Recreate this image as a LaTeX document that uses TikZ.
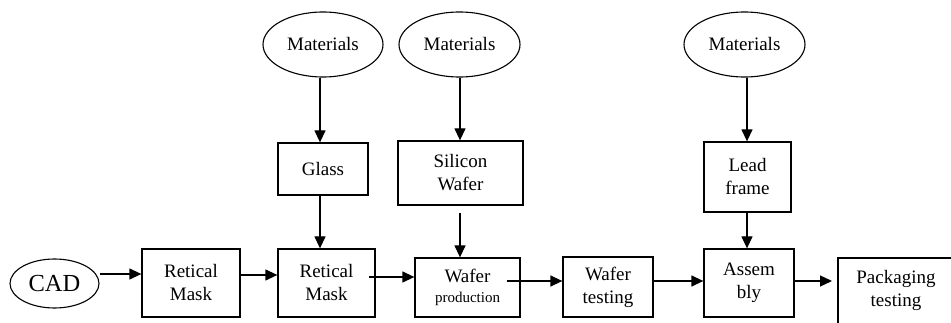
\documentclass[tikz,border=0pt]{standalone}
\usepackage{fontspec}
\setmainfont{Liberation Serif}
\usetikzlibrary{shapes.geometric,arrows.meta}
\begin{document}
\begin{tikzpicture}[x=1pt,y=-1pt,
  every node/.style={font=\fontsize{19}{23}\selectfont, align=center, inner sep=0pt},
  boxn/.style={draw, line width=1.3pt, rectangle},
  ell/.style={draw, line width=1.1pt, ellipse},
  arr/.style={line width=1.3pt, -{Triangle[length=12pt,width=11pt]}}]
\useasboundingbox (0,0) rectangle (951,323);
% ellipses
\node[ell, minimum width=89pt, minimum height=49pt, font=\fontsize{24.5}{28}\selectfont] (cad) at (54.5,283.5) {CAD};
\node[ell, minimum width=120pt, minimum height=65pt] (m1) at (323,44.5) {Materials};
\node[ell, minimum width=121pt, minimum height=65pt] (m2) at (459.5,44.5) {Materials};
\node[ell, minimum width=121pt, minimum height=65pt] (m3) at (744.5,44.5) {Materials};
% upper boxes
\node[boxn, minimum width=90pt, minimum height=52pt] (glass) at (323,169) {Glass};
\node[boxn, minimum width=125pt, minimum height=64pt] (si) at (460.5,173) {Silicon\\Wafer};
\node[boxn, minimum width=87pt, minimum height=70pt] (lead) at (747.5,177) {Lead\\frame};
% lower boxes
\node[boxn, minimum width=98pt, minimum height=68pt] (r1) at (191,283) {Retical\\Mask};
\node[boxn, minimum width=97pt, minimum height=68pt] (r2) at (326.5,283) {Retical\\Mask};
\node[boxn, minimum width=105pt, minimum height=59pt] (wp) at (467.5,287.5) {Wafer\\[-3pt]{\fontsize{15}{18}\selectfont production}};
\node[boxn, minimum width=90pt, minimum height=60pt] (wt) at (608,287) {Wafer\\testing};
\node[boxn, minimum width=90pt, minimum height=68pt] (asm) at (749,283) {Assem\\bly};
\node (pk) at (896,290.5) {Packaging\\testing};
\coordinate (pkw) at (838,281);
\begin{scope}
\clip (0,0) rectangle (951,323);
\draw[line width=1.3pt] (838,340) |- (1000,258);
\end{scope}
% vertical arrows
\draw[arr] (m1.south -| 320,0) -- (glass.north -| 320,0);
\draw[arr] (glass.south -| 320,0) -- (r2.north -| 320,0);
\draw[arr] (m2.south -| 460,0) -- (si.north -| 460,0);
\draw[arr, shorten <=7pt] (si.south -| 460,0) -- (wp.north -| 460,0);
\draw[arr] (m3.south -| 747,0) -- (lead.north -| 747,0);
\draw[arr] (lead.south -| 747,0) -- (asm.north -| 747,0);
% horizontal arrows
\draw[arr] (cad.east |- 0,274) -- (r1.west |- 0,274);
\draw[arr] (r1.east |- 0,275) -- (r2.west |- 0,275);
\draw[arr] ([xshift=-7pt]r2.east |- 0,277) -- (wp.west |- 0,277);
\draw[arr] ([xshift=-14pt]wp.east |- 0,281) -- (wt.west |- 0,281);
\draw[arr] (wt.east |- 0,281) -- (asm.west |- 0,281);
\draw[arr, shorten >=6pt] (asm.east |- 0,281) -- (pkw);
\end{tikzpicture}
\end{document}
